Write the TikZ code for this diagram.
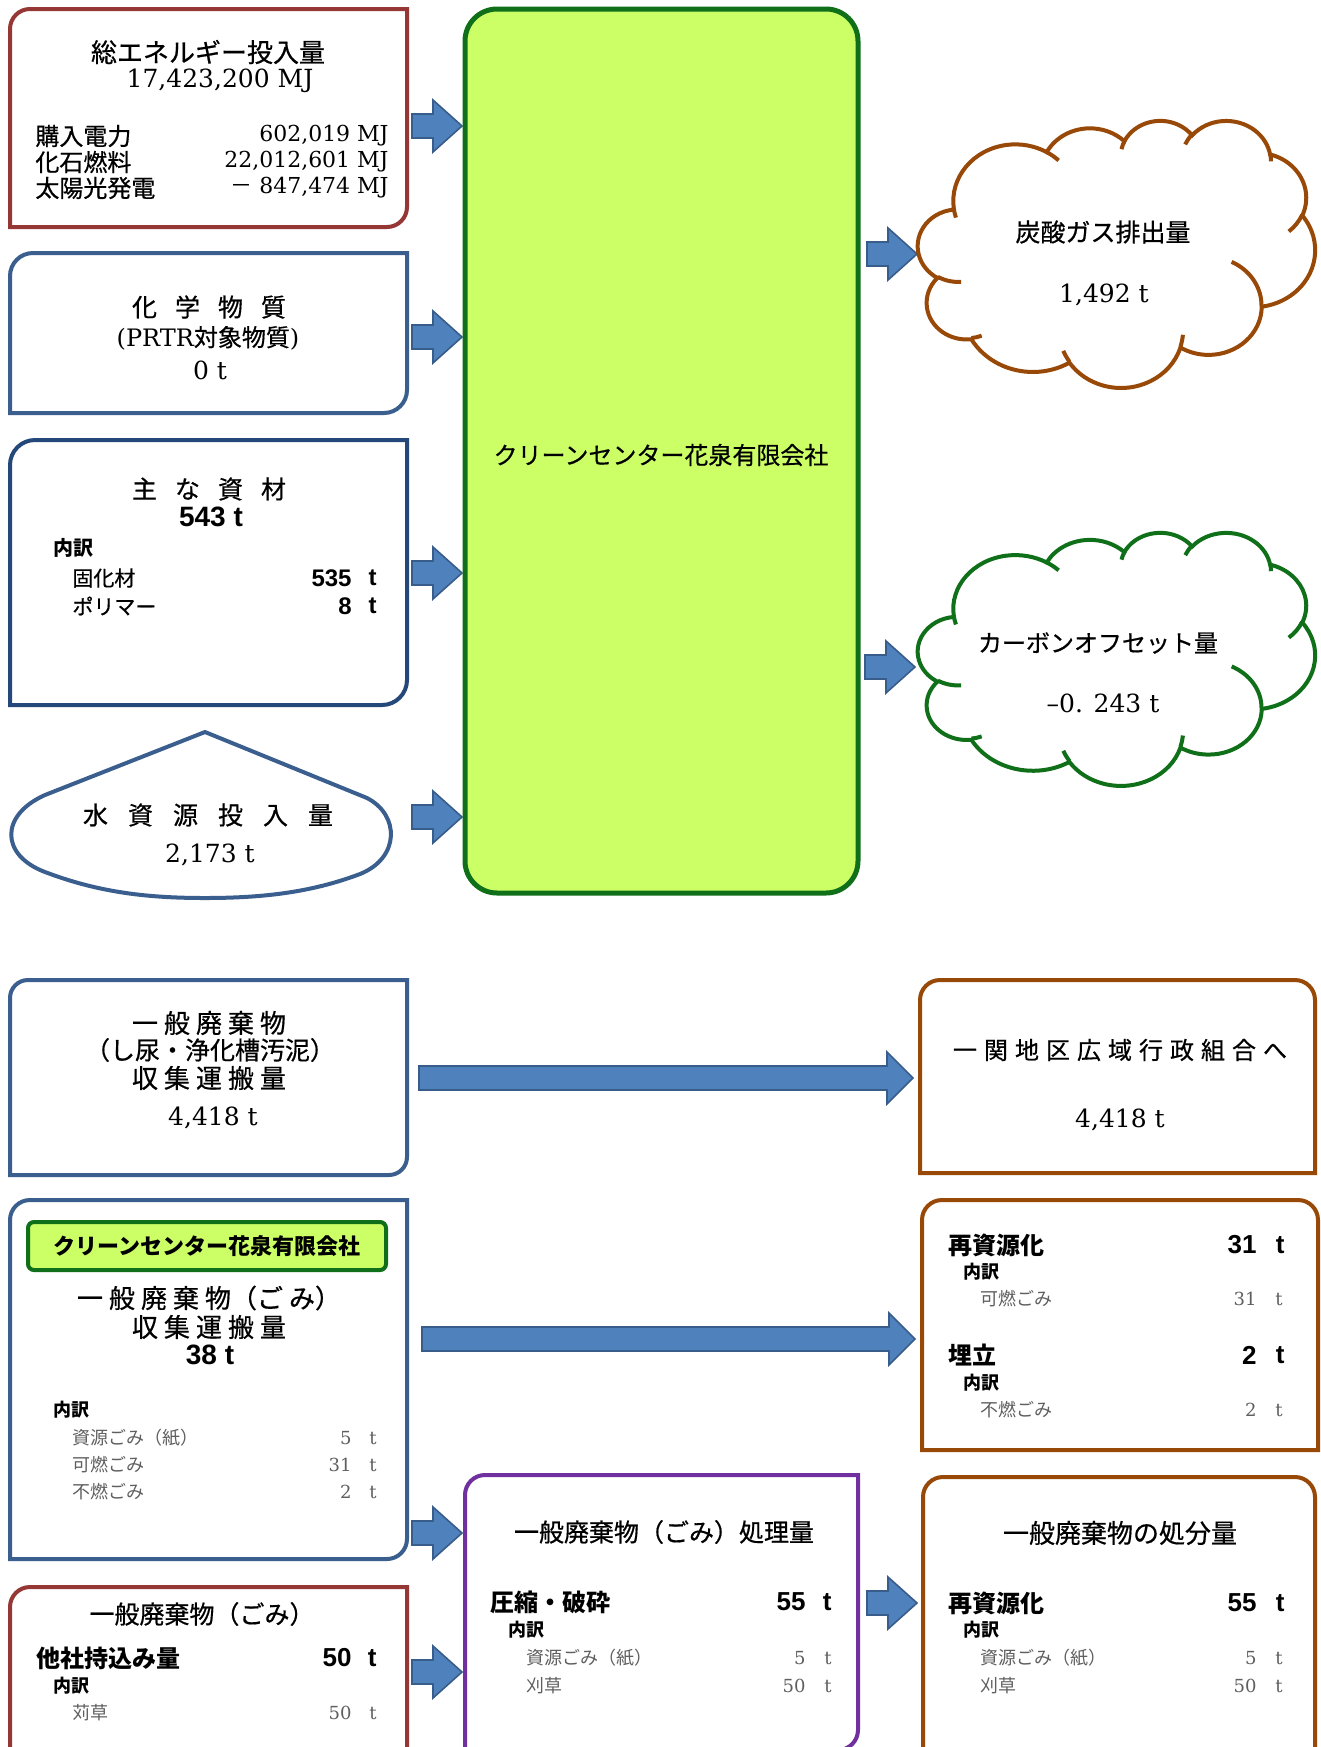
\documentclass[tikz,border=0pt]{standalone}
\usepackage{fontspec}
\setmainfont{DejaVu Serif}
\setsansfont{Liberation Sans}
\newfontfamily\jp{Noto Sans CJK JP}[FakeBold=0.6]
\newfontfamily\jpl{Noto Sans CJK JP}
\definecolor{boxred}{HTML}{953735}
\definecolor{boxblue}{HTML}{3A5F8F}
\definecolor{boxnavy}{HTML}{24487A}
\definecolor{arrfill}{HTML}{4F81BD}
\definecolor{arrline}{HTML}{385D8A}
\definecolor{limefill}{HTML}{CCFF66}
\definecolor{dgreen}{HTML}{10701A}
\definecolor{cbrown}{HTML}{984807}
\definecolor{purp}{HTML}{7030A0}
\definecolor{graytx}{HTML}{5F5F5F}
\newcommand\fsz[1]{\fontsize{#1}{#1}\selectfont}
\newcommand\spA{\hspace{9pt}}
\newcommand\spB{\hspace{10pt}}
\newcommand\spC{\hspace{3pt}}
\newcommand\spD{\hspace{3.5pt}}
% office-like cloud arc: wR hR stAng swAng (visual angles, y down)
\newcommand\carc[4]{\pgfextra{%
  \pgfmathsetmacro\cqa{atan2((#1)*sin(#3),(#2)*cos(#3))}%
  \pgfmathsetmacro\cqb{atan2((#1)*sin((#3)+(#4)),(#2)*cos((#3)+(#4)))}%
  \pgfmathsetmacro\cqd{mod((\cqb)-(\cqa)+720,360)}%
  \pgfmathsetmacro\cqs{0-(\cqa)}\pgfmathsetmacro\cqe{0-(\cqd)}%
  \pgfmathsetmacro\cqrx{(#1)*\cqsx}\pgfmathsetmacro\cqry{(#2)*\cqsy}%
  \global\let\cqs\cqs\global\let\cqe\cqe\global\let\cqrx\cqrx\global\let\cqry\cqry}%
  arc[start angle=\cqs, delta angle=\cqe, x radius=\cqrx pt, y radius=\cqry pt]}
\newcommand\cloudshape[5]{%
  \pgfmathsetmacro\cqw{#3/432}\pgfmathsetmacro\cqh{#4/432}%
  \pgfmathsetmacro\cqsx{#3*0.5/432}\pgfmathsetmacro\cqsy{#4*0.5/432}%
  \global\let\cqsx\cqsx\global\let\cqsy\cqsy
  \draw[line width=2pt,draw=#5,fill=white]
    ({#1+39.00*\cqw},{#2+143.70*\cqh})
    \carc{67.53}{91.90}{-190.48748}{123.78053}
    \carc{53.33}{72.67}{-144.10238}{89.94523}
    \carc{43.65}{59.45}{-145.80792}{99.72302}
    \carc{48.57}{65.95}{-130.98607}{117.24173}
    \carc{53.33}{72.73}{-78.70888}{109.02692}
    \carc{67.75}{92.20}{-46.26725}{130.269}
    \carc{57.85}{78.67}{0.62502}{114.03333}
    \carc{67.52}{92.15}{22.4516}{115.17255}
    \carc{77.20}{105.43}{66.24263}{75.71102}
    \carc{43.60}{59.18}{-274.94208}{146.73557}
    \carc{43.45}{59.45}{-246.8285}{152.51885}
    -- cycle;
  \draw[line width=2pt,draw=#5]
    ({#1+46.93*\cqw},{#2+261.77*\cqh}) \carc{43.45}{59.45}{86.742}{26.4295}
    ({#1+69.28*\cqw},{#2+348.99*\cqh}) \carc{43.60}{59.18}{73.61047}{11.44747}
    ({#1+164.78*\cqw},{#2+390.90*\cqh}) \carc{67.52}{92.15}{137.62415}{14.0811}
    ({#1+288.27*\cqw},{#2+347.51*\cqh}) \carc{67.52}{92.15}{6.45327}{15.99835}
    ({#1+341.29*\cqw},{#2+229.54*\cqh}) \carc{57.85}{78.67}{-70.29235}{70.91737}
    ({#1+417.98*\cqw},{#2+153.54*\cqh}) \carc{53.33}{72.73}{30.31803}{27.7515}
    ({#1+383.24*\cqw},{#2+54.26*\cqh}) \carc{48.57}{65.95}{-13.74433}{14.8589}
    ({#1+290.78*\cqw},{#2+39.52*\cqh}) \carc{48.57}{65.95}{-149.18145}{18.19537}
    ({#1+221.41*\cqw},{#2+47.20*\cqh}) \carc{43.65}{59.45}{-163.49427}{17.68635}
    ({#1+140.00*\cqw},{#2+51.92*\cqh}) \carc{67.53}{91.90}{-66.70695}{12.31935}
    ({#1+41.27*\cqw},{#2+157.89*\cqh}) \carc{67.53}{91.90}{157.65435}{11.85817};
}
% box with top-left and bottom-right rounded: x1 y1 x2 y2 r style
\newcommand\rdbox[6]{\draw[#6] (#1,#4) -- (#1,#2+#5) arc[start angle=180,end angle=90,radius=#5*0.5pt] -- (#3,#2) -- (#3,#4-#5) arc[start angle=0,end angle=-90,radius=#5*0.5pt] -- cycle;}
% box with both top corners rounded
\newcommand\rtbox[6]{\draw[#6] (#1,#4) -- (#1,#2+#5) arc[start angle=180,end angle=90,radius=#5*0.5pt] -- (#3-#5,#2) arc[start angle=90,end angle=0,radius=#5*0.5pt] -- (#3,#4) -- cycle;}
\newcommand\sarrow[2]{\draw[arrsty] (#1,#2-12) -- (#1+21,#2-12) -- (#1+21,#2-26) -- (#1+50,#2) -- (#1+21,#2+26) -- (#1+21,#2+12) -- (#1,#2+12) -- cycle;}
\newcommand\larrow[3]{\draw[arrsty] (#1,#3-12) -- (#2-26,#3-12) -- (#2-26,#3-26) -- (#2,#3) -- (#2-26,#3+26) -- (#2-26,#3+12) -- (#1,#3+12) -- cycle;}
\begin{document}
\begin{tikzpicture}[x=0.5pt,y=-0.5pt,
  ttl/.style={inner sep=0pt,font=\jp\fsz{12.5}},
  rowt/.style={inner sep=0pt,font=\jp\fsz{12}},
  rowb/.style={inner sep=0pt,font=\jpl\bfseries\fsz{12}},
  uchi/.style={inner sep=0pt,font=\jpl\bfseries\fsz{9}},
  gry/.style={inner sep=0pt,font=\jpl\fsz{9},text=graytx},
  gnum/.style={inner sep=0pt,font=\fsz{9},text=graytx},
  snum/.style={inner sep=0pt,font=\fsz{12.5}},
  bnum/.style={inner sep=0pt,font=\sffamily\bfseries\fsz{13}},
  arrsty/.style={fill=arrfill,draw=arrline,line width=0.8pt},
  bx/.style={line width=2pt,fill=white}]
\fill[white] (0,0) rectangle (1321,1747);
\useasboundingbox (0,0) rectangle (1321,1747);

% ---------- box 1 energy
\rdbox{10}{9}{407}{227}{20}{bx,draw=boxred}
\node[ttl,font=\jp\fsz{13}] (e1) at (208,52) {総エネルギー投入量};
\node[snum] (e2) at (220,81) {17,423,200 MJ};
\node[rowt,anchor=west] (e3) at (35,136) {購入電力};
\node[rowt,anchor=west] (e4) at (35,162) {化石燃料};
\node[rowt,anchor=west] (e5) at (35,188) {太陽光発電};
\node[snum,font=\fsz{11},anchor=east] (e6) at (389,136) {602,019 MJ};
\node[snum,font=\fsz{11},anchor=east] (e7) at (389,162) {22,012,601 MJ};
\node[snum,font=\fsz{11},anchor=east] (e8) at (389,188) {{\jpl －} 847,474 MJ};
\sarrow{412}{126}

% ---------- box 2 chemicals
\rdbox{10}{253}{407}{413}{23}{bx,draw=boxblue}
\node[ttl] (c1) at (209,307) {化\spA 学\spA 物\spA 質};
\node[snum,font=\fsz{12}] (c2) at (208,338) {(PRTR{\jp 対象物質})};
\node[snum] (c3) at (210,370) {0 t};
\sarrow{412}{337}

% ---------- box 3 materials
\rdbox{10}{440}{407}{705}{25}{bx,draw=boxnavy}
\node[ttl] (m1) at (209,489) {主\spA な\spA 資\spA 材};
\node[bnum,font=\sffamily\bfseries\fsz{14}] (m2) at (211,517) {543 t};
\node[uchi,font=\jpl\bfseries\fsz{10}, anchor=west] (m3) at (53,548) {内訳};
\node[rowt,font=\jp\fsz{10.5},anchor=west] (m4) at (72,578) {固化材};
\node[rowt,font=\jp\fsz{10.5},anchor=west] (m5) at (72,606) {ポリマー};
\node[bnum,font=\sffamily\bfseries\fsz{12},anchor=east] (m6) at (352,578) {535};
\node[bnum,font=\sffamily\bfseries\fsz{12},anchor=east] (m7) at (377,578) {t};
\node[bnum,font=\sffamily\bfseries\fsz{12},anchor=east] (m8) at (352,606) {8};
\node[bnum,font=\sffamily\bfseries\fsz{12},anchor=east] (m9) at (377,606) {t};
\sarrow{412}{573}

% ---------- water
\draw[bx,draw=boxblue] (205,732) -- (45,795) .. controls (0,815) and (0,855) .. (45,872)
  .. controls (100,893) and (150,898) .. (205,898) .. controls (260,898) and (310,893) .. (360,874)
  .. controls (400,858) and (400,815) .. (367,798) -- cycle;
\node[ttl] (w1) at (208,815) {水\spB 資\spB 源\spB 投\spB 入\spB 量};
\node[snum] (w2) at (210,855) {2,173 t};
\sarrow{412}{817}

% ---------- central company
\draw[line width=2.5pt,draw=dgreen,fill=limefill,rounded corners=16pt] (465,9) rectangle (858,893);
\node[rowt] (cc) at (661,455) {クリーンセンター花泉有限会社};

% ---------- clouds
\sarrow{867}{254}
\cloudshape{918}{120}{397}{267}{cbrown}
\node[ttl] (k1) at (1103,232) {炭酸ガス排出量};
\node[snum] (k2) at (1104,295) {1,492 t};
\sarrow{865}{667}
\cloudshape{918}{532}{397}{253}{dgreen}
\node[rowt] (k3) at (1098,643) {カーボンオフセット量};
\node[snum] (k4) at (1103,703) {–0. 243 t};

% ---------- box 5 night soil
\rdbox{10}{980}{407}{1175}{18}{bx,draw=boxblue}
\node[ttl,font=\jp\fsz{13}] (s1) at (209,1023) {一\spC 般\spC 廃\spC 棄\spC 物};
\node[ttl] (s2) at (210,1050) {（し尿・浄化槽汚泥）};
\node[ttl,font=\jp\fsz{13}] (s3) at (209,1078) {収\spC 集\spC 運\spC 搬\spC 量};
\node[snum] (s4) at (213,1118) {4,418 t};
\larrow{419}{913}{1078}
\rtbox{920}{980}{1315}{1173}{20}{bx,draw=cbrown}
\node[rowt] (i1) at (1120,1050) {一\spD 関\spD 地\spD 区\spD 広\spD 域\spD 行\spD 政\spD 組\spD 合\spD へ};
\node[snum] (i2) at (1120,1120) {4,418 t};

% ---------- box 6 garbage collection
\rdbox{10}{1200}{407}{1559}{20}{bx,draw=boxblue}
\draw[line width=2pt,draw=dgreen,fill=limefill,rounded corners=3pt] (28,1222) rectangle (386,1270);
\node[rowb,font=\jpl\bfseries\fsz{11}] (g0) at (207,1246) {クリーンセンター花泉有限会社};
\node[ttl,font=\jp\fsz{13}] (g1) at (209,1298) {一\spC 般\spC 廃\spC 棄\spC 物（ご\spC み）};
\node[ttl,font=\jp\fsz{13}] (g2) at (209,1327) {収\spC 集\spC 運\spC 搬\spC 量};
\node[bnum,font=\sffamily\bfseries\fsz{14}] (g3) at (210,1355) {38 t};
\node[uchi,anchor=west] (g4) at (53,1410) {内訳};
\node[gry,anchor=west] (g5) at (72,1438) {資源ごみ（紙）};
\node[gry,anchor=west] (g6) at (72,1465) {可燃ごみ};
\node[gry,anchor=west] (g7) at (72,1492) {不燃ごみ};
\node[gnum,anchor=east] (g8) at (352,1438) {5};
\node[gnum,anchor=east] (g9) at (352,1465) {31};
\node[gnum,anchor=east] (g10) at (352,1492) {2};
\node[gnum,anchor=east] (g11) at (377,1438) {t};
\node[gnum,anchor=east] (g12) at (377,1465) {t};
\node[gnum,anchor=east] (g13) at (377,1492) {t};
\larrow{422}{915}{1339}

% ---------- box 7 other companies
\draw[bx,draw=boxred] (10,1770) -- (10,1607) arc[start angle=180,end angle=90,radius=10pt] -- (407,1587) -- (407,1770);
\node[ttl] (o1) at (202,1614) {一般廃棄物（ごみ）};
\node[rowb,anchor=west] (o2) at (36,1658) {他社持込み量};
\node[bnum,anchor=east] (o3) at (352,1658) {50};
\node[bnum,anchor=east] (o4) at (377,1658) {t};
\node[uchi,anchor=west] (o5) at (53,1686) {内訳};
\node[gry,anchor=west] (o6) at (72,1713) {苅草};
\node[gnum,anchor=east] (o7) at (352,1713) {50};
\node[gnum,anchor=east] (o8) at (377,1713) {t};
\sarrow{412}{1533}
\sarrow{412}{1672}

% ---------- purple processing
\rdbox{465}{1475}{858}{1750}{20}{bx,draw=purp}
\node[ttl] (p1) at (664,1532) {一般廃棄物（ごみ）処理量};
\node[rowb,anchor=west] (p2) at (490,1602) {圧縮・破砕};
\node[bnum,anchor=east] (p3) at (806,1602) {55};
\node[bnum,anchor=east] (p4) at (832,1602) {t};
\node[uchi,anchor=west] (p5) at (508,1630) {内訳};
\node[gry,anchor=west] (p6) at (526,1658) {資源ごみ（紙）};
\node[gry,anchor=west] (p7) at (526,1686) {刈草};
\node[gnum,anchor=east] (p8) at (806,1658) {5};
\node[gnum,anchor=east] (p9) at (806,1686) {50};
\node[gnum,anchor=east] (p10) at (832,1658) {t};
\node[gnum,anchor=east] (p11) at (832,1686) {t};
\sarrow{867}{1603}

% ---------- right box R1
\rtbox{922}{1200}{1318}{1450}{20}{bx,draw=cbrown}
\node[rowb,anchor=west] (r1) at (948,1245) {再資源化};
\node[bnum,anchor=east] (r2) at (1257,1245) {31};
\node[bnum,anchor=east] (r3) at (1285,1245) {t};
\node[uchi,anchor=west] (r4) at (963,1272) {内訳};
\node[gry,anchor=west] (r5) at (980,1299) {可燃ごみ};
\node[gnum,anchor=east] (r6) at (1257,1299) {31};
\node[gnum,anchor=east] (r7) at (1283,1299) {t};
\node[rowb,anchor=west] (r8) at (948,1355) {埋立};
\node[bnum,anchor=east] (r9) at (1257,1355) {2};
\node[bnum,anchor=east] (r10) at (1285,1355) {t};
\node[uchi,anchor=west] (r11) at (963,1383) {内訳};
\node[gry,anchor=west] (r12) at (980,1410) {不燃ごみ};
\node[gnum,anchor=east] (r13) at (1257,1410) {2};
\node[gnum,anchor=east] (r14) at (1283,1410) {t};

% ---------- right box R2
\draw[bx,draw=cbrown] (923,1770) -- (923,1497) arc[start angle=180,end angle=90,radius=10pt] -- (1295,1477) arc[start angle=90,end angle=0,radius=10pt] -- (1315,1770);
\node[ttl,font=\jp\fsz{13}] (q1) at (1120,1533) {一般廃棄物の処分量};
\node[rowb,anchor=west] (q2) at (948,1603) {再資源化};
\node[bnum,anchor=east] (q3) at (1257,1603) {55};
\node[bnum,anchor=east] (q4) at (1285,1603) {t};
\node[uchi,anchor=west] (q5) at (963,1630) {内訳};
\node[gry,anchor=west] (q6) at (980,1658) {資源ごみ（紙）};
\node[gry,anchor=west] (q7) at (980,1686) {刈草};
\node[gnum,anchor=east] (q8) at (1257,1658) {5};
\node[gnum,anchor=east] (q9) at (1257,1686) {50};
\node[gnum,anchor=east] (q10) at (1283,1658) {t};
\node[gnum,anchor=east] (q11) at (1283,1686) {t};
\end{tikzpicture}
\end{document}
